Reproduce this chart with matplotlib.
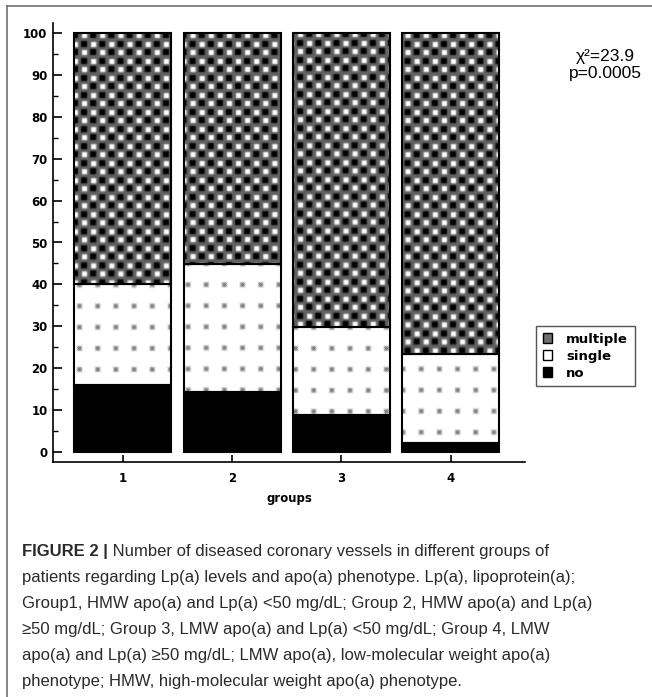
import numpy as np
import matplotlib
matplotlib.use('Agg')
import matplotlib.pyplot as plt
from matplotlib.patches import Patch
from matplotlib.lines import Line2D

# data (percent of patients)
groups = ['1', '2', '3', '4']
no_vessel = [16.0, 14.2, 8.8, 2.1]
single_vessel = [24.2, 30.7, 21.0, 21.4]
multiple_vessel = [59.8, 55.1, 70.2, 76.5]
legend_labels = ['multiple', 'single', 'no']
stat_text = '\u03c7\u00b2=23.9\np=0.0005'

caption_head = 'FIGURE 2 |'
caption_lines = [
    ' Number of diseased coronary vessels in different groups of',
    'patients regarding Lp(a) levels and apo(a) phenotype. Lp(a), lipoprotein(a);',
    'Group1, HMW apo(a) and Lp(a) <50 mg/dL; Group 2, HMW apo(a) and Lp(a)',
    '\u226550 mg/dL; Group 3, LMW apo(a) and Lp(a) <50 mg/dL; Group 4, LMW',
    'apo(a) and Lp(a) \u226550 mg/dL; LMW apo(a), low-molecular weight apo(a)',
    'phenotype; HMW, high-molecular weight apo(a) phenotype.',
]


def soften(a):
    # small periodic blur so the textures look like the scanned original
    return (a + np.roll(a, 1, 0) + np.roll(a, -1, 0)
            + np.roll(a, 1, 1) + np.roll(a, -1, 1)) / 5


def texture(tile, w, h):
    reps = (h // tile.shape[0] + 2, w // tile.shape[1] + 2)
    return np.tile(tile, reps)[:h, :w]


# checker texture for "multiple"
multi_tile = np.full((17, 18), 0.38)
multi_tile[2:7, 2:7] = 1.0
multi_tile[1:7, 10:16] = 0.0
multi_tile[9:15, 1:7] = 0.0
multi_tile[10:15, 11:16] = 1.0
multi_tile = soften(multi_tile)

# small asterisk texture for "single"
star = np.array([[1, 0, 1, 0, 1],
                 [0, 1, 1, 1, 0],
                 [1, 1, 0, 1, 1],
                 [0, 1, 1, 1, 0],
                 [1, 0, 1, 0, 1]])
single_tile = np.ones((21, 18))
single_tile[8:13, 6:11] -= 0.65 * star
single_tile = soften(single_tile)

fig = plt.figure(figsize=(6.52, 6.97), dpi=100)
ax = fig.add_axes([53 / 652, 1 - 462 / 697, 472 / 652, 439 / 697])

xlim = (0.365, 4.676)
ylim = (-2.39, 102.39)
x = np.arange(1, len(groups) + 1)
width = 0.886
lw = 1.5

bottom_single = np.array(no_vessel)
bottom_multi = np.add(no_vessel, single_vessel)

ax.bar(x, no_vessel, width, color='black', edgecolor='black', lw=lw, zorder=3)
b_single = ax.bar(x, single_vessel, width, bottom=bottom_single,
                  facecolor='none', edgecolor='black', lw=lw, zorder=3)
b_multi = ax.bar(x, multiple_vessel, width, bottom=bottom_multi,
                 facecolor='none', edgecolor='black', lw=lw, zorder=3)

bb = ax.get_window_extent()
w, h = int(round(bb.width)), int(round(bb.height))
tex_single = texture(single_tile, w, h)
tex_multi = texture(multi_tile, w, h)
extent = (xlim[0], xlim[1], ylim[0], ylim[1])
for bars, tex in [(b_single, tex_single), (b_multi, tex_multi)]:
    for p in bars.patches:
        im = ax.imshow(tex, cmap='gray', vmin=0, vmax=1, extent=extent,
                       aspect='auto', interpolation='bilinear', zorder=2)
        im.set_clip_path(p)

ax.set_xlim(*xlim)
ax.set_ylim(*ylim)

for s in ['top', 'right']:
    ax.spines[s].set_visible(False)
for s in ['left', 'bottom']:
    ax.spines[s].set_linewidth(1.2)

ax.set_yticks(np.arange(0, 101, 10))
ax.set_yticks(np.arange(0, 101, 5), minor=True)
ax.set_xticks(x)
ax.set_xticklabels(groups)
ax.tick_params(axis='y', which='major', direction='in', length=6.5, width=1.2,
               pad=4, labelsize=8.5)
ax.tick_params(axis='y', which='minor', direction='in', length=3.5, width=1.0)
ax.tick_params(axis='x', which='major', direction='in', length=5, width=1.2,
               pad=7, labelsize=8.5)
for lab in ax.get_xticklabels() + ax.get_yticklabels():
    lab.set_fontweight('bold')
ax.set_xlabel('groups', fontsize=8.5, fontweight='bold', labelpad=5)

fig.text(0.928, 0.907, stat_text, ha='center', va='center', fontsize=12.5,
         family='Liberation Sans', linespacing=1.2)

handles = [Patch(facecolor='#6e6e6e', edgecolor='black', lw=1),
           Patch(facecolor='white', edgecolor='black', lw=1),
           Patch(facecolor='black', edgecolor='black', lw=1)]
leg = fig.legend(handles, legend_labels, loc='upper left',
                 bbox_to_anchor=(536 / 652, 1 - 326 / 697), borderaxespad=0,
                 fancybox=False, edgecolor='#555555', framealpha=1,
                 handlelength=0.7, handleheight=0.7, handletextpad=1.1,
                 labelspacing=0.3, borderpad=0.5,
                 prop={'weight': 'bold', 'size': 9.5})
leg.get_frame().set_linewidth(1.0)

# page frame (left and top edges)
fig.add_artist(Line2D([7 / 652, 7 / 652], [0, 1 - 6 / 697], transform=fig.transFigure,
                      color='#666666', lw=1.1))
fig.add_artist(Line2D([7 / 652, 1], [1 - 6 / 697, 1 - 6 / 697], transform=fig.transFigure,
                      color='#666666', lw=1.1))

# caption
cap_x = 22 / 652
base = 556
step = 26
cap_kw = dict(fontsize=12, family='Liberation Sans', color='#2a2a2a')
head = fig.text(cap_x, 1 - base / 697, caption_head, va='baseline',
                fontweight='bold', **cap_kw)
ax.annotate(caption_lines[0], xy=(1, 0), xycoords=head, va='bottom',
            annotation_clip=False, **cap_kw)
for i, line in enumerate(caption_lines[1:], start=1):
    fig.text(cap_x, 1 - (base + i * step) / 697, line, va='baseline', **cap_kw)

fig.savefig('out.png', dpi=100)
